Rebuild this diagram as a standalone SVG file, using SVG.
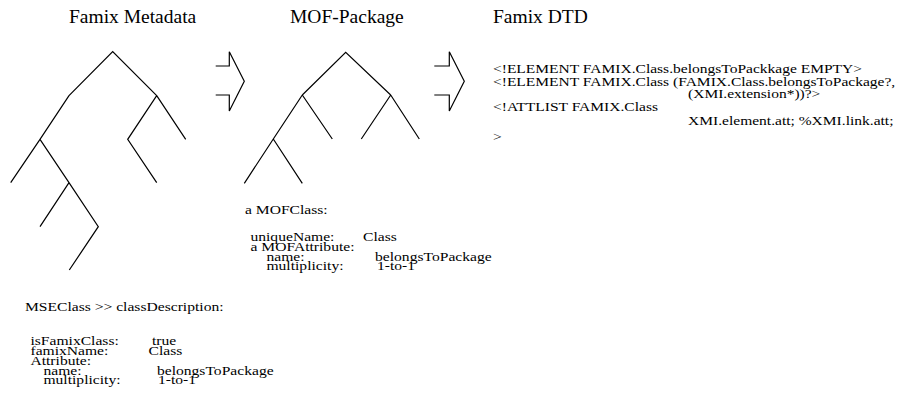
<svg xmlns="http://www.w3.org/2000/svg" width="901" height="406" viewBox="0 0 901 406">
<style>
text{font-family:"Liberation Serif","Times New Roman",serif;fill:#000}
.t{font-size:19.5px}
.d{font-size:13.5px}
.s{font-size:12px}
.ln{fill:none;stroke:#000;stroke-width:1.2;stroke-linejoin:miter}
</style>
<rect width="901" height="406" fill="#fff"/>
<g id="famix-metadata">
<text class="t" x="69" y="23">Famix Metadata</text>
<path class="ln" d="M69,95.7 L112.7,51.7 L156.7,95.7 M156.7,95.7 L185.7,139.3 M156.7,95.7 L127.7,139.3 L156.7,182.7 M69,95.7 L40,139.3 L10.7,182.7 M40,139.3 L69,182.7 L98.3,226.7 L69.3,270 M69,182.7 L40,226.7"/>
</g>
<g id="mof-package">
<text class="t" x="290" y="23">MOF-Package</text>
<path class="ln" d="M302.3,95 L345.7,52.3 L390.7,95 M302.3,95 L332.3,139 M302.3,95 L273.3,139 L244.3,183.3 M273.3,139 L302.3,183.3 M390.7,95 L361.3,139 M390.7,95 L419.3,139"/>
</g>
<g id="famix-dtd">
<text class="t" x="493" y="23">Famix DTD</text>
<g transform="matrix(1.15 0 0 1 -73.95 0)">
<text class="d" x="493" y="73">&lt;!ELEMENT FAMIX.Class.belongsToPackkage EMPTY&gt;</text>
<text class="d" x="493" y="86">&lt;!ELEMENT FAMIX.Class (FAMIX.Class.belongsToPackage?,</text>
<text class="d" x="662.6" y="98.5">(XMI.extension*))?&gt;</text>
<text class="d" x="493" y="111">&lt;!ATTLIST FAMIX.Class</text>
<text class="d" x="662.6" y="125">XMI.element.att; %XMI.link.att;</text>
<text class="d" x="493" y="141">&gt;</text>
</g>
</g>
<g id="mof-class" transform="matrix(1.3 0 0 1 -73.5 0)">
<text class="s" x="245" y="214">a MOFClass:</text>
<text class="s" x="249.2" y="241">uniqueName:</text>
<text class="s" x="335.8" y="241">Class</text>
<text class="s" x="249.2" y="251">a MOFAttribute:</text>
<text class="s" x="261.5" y="261">name:</text>
<text class="s" x="345" y="261">belongsToPackage</text>
<text class="s" x="261.5" y="270.5">multiplicity:</text>
<text class="s" x="346.5" y="270.5">1-to-1</text>
</g>
<g id="mse-class" transform="matrix(1.3 0 0 1 -7.5 0)">
<text class="s" x="25" y="311">MSEClass &gt;&gt; classDescription:</text>
<text class="s" x="29.2" y="345">isFamixClass:</text>
<text class="s" x="122.7" y="345">true</text>
<text class="s" x="29.2" y="355">famixName:</text>
<text class="s" x="120" y="355">Class</text>
<text class="s" x="29.2" y="365">Attribute:</text>
<text class="s" x="39.2" y="375">name:</text>
<text class="s" x="126.5" y="375">belongsToPackage</text>
<text class="s" x="39.2" y="384.5">multiplicity:</text>
<text class="s" x="127.3" y="384.5">1-to-1</text>
</g>
<g id="connectors">
<path class="ln" d="M215.7,66 L229.3,66 L229.3,51.7 L244.3,81.3 L229.3,111 L229.3,95 L215.7,95"/>
<path class="ln" d="M434.3,66 L449.3,66 L449.3,51.7 L464.3,81.3 L449.3,111 L449.3,95 L434.3,95"/>
</g>
</svg>
